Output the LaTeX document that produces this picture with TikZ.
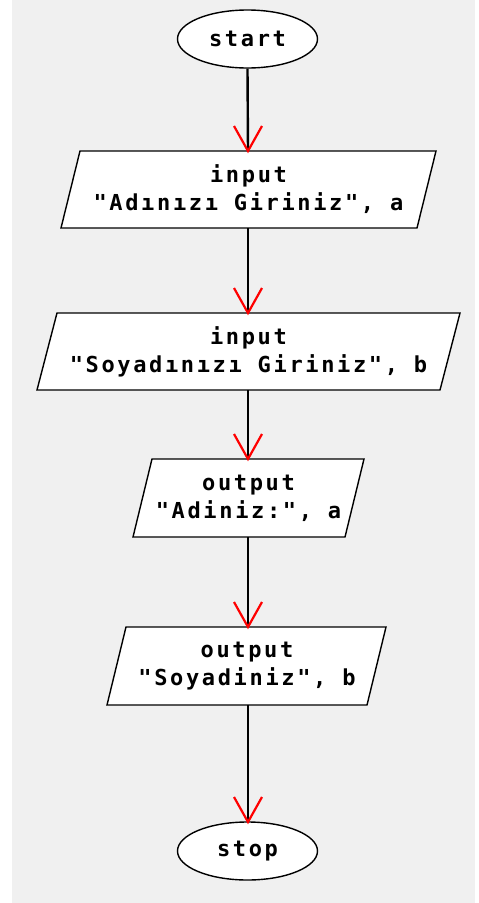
\documentclass[tikz,border=0pt]{standalone}
\usepackage{fontspec}
\newfontfamily\flowfont{DejaVu Sans Mono}[LetterSpace=12]
\usetikzlibrary{shapes.geometric}
\definecolor{bggray}{HTML}{F0F0F0}
\definecolor{barbred}{HTML}{FF0000}
\begin{document}
\begin{tikzpicture}[x=1pt,y=1pt,
  lbl/.style={font=\fontsize{22}{28}\selectfont\flowfont\bfseries, align=center, inner sep=0pt},
  term/.style={lbl, ellipse, draw=black, line width=1.4pt, fill=white, minimum width=140pt, minimum height=58pt},
  io/.style={draw=black, line width=1.4pt, fill=white, line join=miter},
  shaft/.style={draw=black, line width=2.4pt},
  barb/.style={draw=barbred, line width=2.2pt}
]
\useasboundingbox (0,0) rectangle (479,-903);
\fill[bggray] (12,0) rectangle (475,-903);

% terminals
\node[term] (start) at (247.5,-39) {start};
\node[term] (stop) at (247.5,-851) {stop};

% io boxes (parallelograms)
\draw[io] (80,-151) -- (436,-151) -- (417,-228) -- (61,-228) -- cycle;
\node[lbl] (in1) at (248.5,-189.5) {input\\"Adınızı Giriniz", a};
\coordinate (in1t) at (248,-151);
\coordinate (in1b) at (248,-228);

\draw[io] (57,-313) -- (460,-313) -- (440,-390) -- (37,-390) -- cycle;
\node[lbl] (in2) at (248.5,-351.5) {input\\"Soyadınızı Giriniz", b};
\coordinate (in2t) at (248,-313);
\coordinate (in2b) at (248,-390);

\draw[io] (152,-459) -- (364,-459) -- (345,-537) -- (133,-537) -- cycle;
\node[lbl] (out1) at (248.5,-498) {output\\"Adiniz:", a};
\coordinate (out1t) at (248,-459);
\coordinate (out1b) at (248,-537);

\draw[io] (126,-627) -- (386,-627) -- (367,-705) -- (107,-705) -- cycle;
\node[lbl] (out2) at (247,-666) {output\\"Soyadiniz", b};
\coordinate (out2t) at (248,-627);
\coordinate (out2b) at (248,-705);

% connectors
\coordinate (stopt) at (248,-822);
\foreach \a/\b in {start.south/in1t, in1b/in2t, in2b/out1t, out1b/out2t, out2b/stopt}{
  \draw[shaft] (\a) -- (\b);
  \draw[barb] ([xshift=-14pt,yshift=25pt]\b) -- (\b) -- ([xshift=14pt,yshift=25pt]\b);
}
\end{tikzpicture}
\end{document}
